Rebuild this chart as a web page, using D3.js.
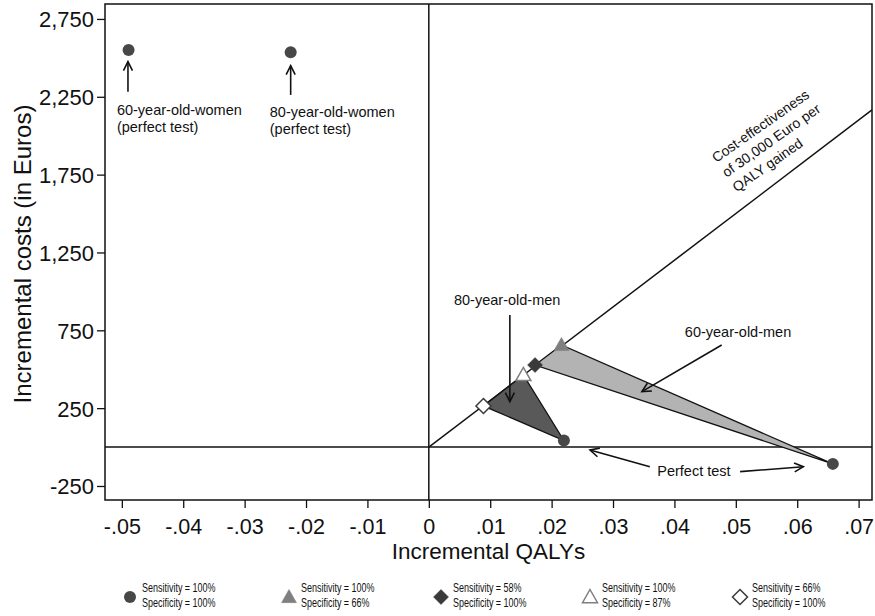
<!DOCTYPE html>
<html>
<head>
<meta charset="utf-8">
<script src="https://cdn.jsdelivr.net/npm/d3@7"></script>
<style>
  body { margin: 0; background: #fff; }
  text { font-family: "Liberation Sans", Arial, sans-serif; fill: #111; }
  .legend text { font-size: 13px; }
</style>
</head>
<body>
<div id="chart"></div>
<script>
// axis ticks
var xTicks = [-0.05, -0.04, -0.03, -0.02, -0.01, 0, 0.01, 0.02, 0.03, 0.04, 0.05, 0.06, 0.07];
var xTickLabels = ["-.05", "-.04", "-.03", "-.02", "-.01", "0", ".01", ".02", ".03", ".04", ".05", ".06", ".07"];
var yTicks = [-250, 250, 750, 1250, 1750, 2250, 2750];
var yTickLabels = ["-250", "250", "750", "1,250", "1,750", "2,250", "2,750"];

// threshold (Euro per QALY)
var threshold = 30000;

// strategies: [qaly, cost, marker]
var women60 = [[-0.0489, 2551, "circle"]];
var women80 = [[-0.0225, 2536, "circle"]];
var men60 = [[0.0216, 656, "triangle"], [0.0173, 527, "diamond"], [0.0658, -108, "circle"]];
var men80 = [[0.0089, 264, "diamondOpen"], [0.0154, 463, "triangleOpen"], [0.0220, 42, "circle"]];

// annotation labels: [qaly, cost, text]
var labels = [
  [-0.0508, 2133, "60-year-old-women"], [-0.0508, 2024, "(perfect test)"],
  [-0.0259, 2120, "80-year-old-women"], [-0.0259, 2011, "(perfect test)"],
  [0.0041, 913, "80-year-old-men"],
  [0.0417, 707, "60-year-old-men"],
  [0.0372, -186, "Perfect test"]
];
// arrows: [fromQaly, fromCost, toQaly, toCost]
var arrows = [
  [-0.0490, 2283, -0.0490, 2476],
  [-0.0225, 2262, -0.0225, 2450],
  [0.0132, 849, 0.0132, 292],
  [0.0477, 656, 0.0347, 356],
  [0.0360, -126, 0.02625, -19],
  [0.0507, -158, 0.0610, -126]
];
var ceLabel = ["Cost-effectiveness", "of 30,000 Euro per", "QALY gained"];
var ceLabelAt = [0.0468, 1825];

// legend
var legendMarkers = ["circle", "triangle", "diamond", "triangleOpen", "diamondOpen"];
var legendSens = ["Sensitivity = 100%", "Sensitivity = 100%", "Sensitivity = 58%", "Sensitivity = 100%", "Sensitivity = 66%"];
var legendSpec = ["Specificity = 100%", "Specificity = 66%", "Specificity = 100%", "Specificity = 87%", "Specificity = 100%"];

var svgWidth = 875;
var svgHeight = 616;
var plot = { left: 105, right: 872, top: 4, bottom: 500 };

var svg = d3.select("#chart")
  .append("svg")
  .attr("width", svgWidth)
  .attr("height", svgHeight);

var x = d3.scaleLinear().domain([-0.05274, 0.07218]).range([plot.left, plot.right]);
var y = d3.scaleLinear().domain([-340, 2846]).range([plot.bottom, plot.top]);

// arrow head
svg.append("defs").append("marker")
  .attr("id", "head")
  .attr("viewBox", "-10 -6 12 12")
  .attr("refX", 0).attr("refY", 0)
  .attr("markerWidth", 12).attr("markerHeight", 12)
  .attr("markerUnits", "userSpaceOnUse")
  .attr("orient", "auto")
  .append("path")
  .attr("d", "M-9,-4.5 L0,0 L-9,4.5")
  .attr("fill", "none")
  .attr("stroke", "#111")
  .attr("stroke-width", 1.6);

// axes
var xAxis = d3.axisBottom(x).tickValues(xTicks).tickSize(8).tickSizeOuter(0)
  .tickFormat(function(d, i) { return xTickLabels[i]; });
var yAxis = d3.axisLeft(y).tickValues(yTicks).tickSize(8).tickSizeOuter(0)
  .tickFormat(function(d, i) { return yTickLabels[i]; });

var gx = svg.append("g").attr("transform", `translate(0, ${plot.bottom})`).call(xAxis);
var gy = svg.append("g").attr("transform", `translate(${plot.left}, 0)`).call(yAxis);
gx.select(".domain").remove();
gy.select(".domain").remove();
gx.selectAll("line").attr("stroke", "#111").attr("stroke-width", 1.3);
gy.selectAll("line").attr("stroke", "#111").attr("stroke-width", 1.3);
gx.selectAll("text").attr("font-size", 21.5).attr("font-family", null).attr("dy", null).attr("y", 33.5);
gy.selectAll("text").attr("font-size", 22).attr("font-family", null).attr("x", -11).attr("dy", "0.36em");

// frame
svg.append("rect")
  .attr("x", plot.left).attr("y", plot.top)
  .attr("width", plot.right - plot.left).attr("height", plot.bottom - plot.top)
  .attr("fill", "none").attr("stroke", "#111").attr("stroke-width", 1.5);

// zero lines
svg.append("line").attr("x1", x(0)).attr("x2", x(0)).attr("y1", plot.top).attr("y2", plot.bottom)
  .attr("stroke", "#111").attr("stroke-width", 1.5);
svg.append("line").attr("x1", plot.left).attr("x2", plot.right).attr("y1", y(0)).attr("y2", y(0))
  .attr("stroke", "#111").attr("stroke-width", 1.5);

// cost-effectiveness threshold
var xEnd = x.domain()[1];
svg.append("line")
  .attr("x1", x(0)).attr("y1", y(0))
  .attr("x2", x(xEnd)).attr("y2", y(xEnd * threshold))
  .attr("stroke", "#111").attr("stroke-width", 1.5);

// polygons
var poly = d3.line().x(d => x(d[0])).y(d => y(d[1]));
svg.append("path").attr("d", poly(men60) + "Z")
  .attr("fill", "#b3b3b3").attr("stroke", "#111").attr("stroke-width", 1.3);
svg.append("path").attr("d", poly(men80) + "Z")
  .attr("fill", "#595959").attr("stroke", "#111").attr("stroke-width", 1.3);

// markers
function drawMarker(g, type, cx, cy) {
  if (type === "circle") {
    g.append("circle").attr("cx", cx).attr("cy", cy).attr("r", 6).attr("fill", "#474747");
  } else if (type === "triangle" || type === "triangleOpen") {
    var s = 7.5;
    g.append("path")
      .attr("d", `M${cx},${cy - s} L${cx + s},${cy + s * 0.75} L${cx - s},${cy + s * 0.75}Z`)
      .attr("fill", type === "triangle" ? "#7f7f7f" : "#fff")
      .attr("stroke", "#7f7f7f").attr("stroke-width", type === "triangle" ? 0.5 : 1.5);
  } else {
    var r = 7.5;
    g.append("path")
      .attr("d", `M${cx},${cy - r} L${cx + r},${cy} L${cx},${cy + r} L${cx - r},${cy}Z`)
      .attr("fill", type === "diamond" ? "#3a3a3a" : "#fff")
      .attr("stroke", "#3a3a3a").attr("stroke-width", type === "diamond" ? 0.5 : 1.5);
  }
}
var gm = svg.append("g");
women60.concat(women80, men60, men80).forEach(function(d) {
  drawMarker(gm, d[2], x(d[0]), y(d[1]));
});

// arrows
svg.append("g").selectAll("line")
  .data(arrows)
  .enter()
  .append("line")
  .attr("x1", d => x(d[0])).attr("y1", d => y(d[1]))
  .attr("x2", d => x(d[2])).attr("y2", d => y(d[3]))
  .attr("stroke", "#111").attr("stroke-width", 1.6)
  .attr("marker-end", "url(#head)");

// labels
svg.append("g").selectAll("text")
  .data(labels)
  .enter()
  .append("text")
  .attr("x", d => x(d[0])).attr("y", d => y(d[1]))
  .attr("font-size", 14.5)
  .text(d => d[2]);

var ce = svg.append("g")
  .attr("transform", `translate(${x(ceLabelAt[0])}, ${y(ceLabelAt[1])}) rotate(-35)`);
ce.selectAll("text")
  .data(ceLabel)
  .enter()
  .append("text")
  .attr("x", 0).attr("y", (d, i) => i * 18)
  .attr("font-size", 14)
  .text(d => d);

// axis titles
svg.append("text")
  .attr("x", (plot.left + plot.right) / 2).attr("y", 559)
  .attr("text-anchor", "middle").attr("font-size", 22.5)
  .text("Incremental QALYs");
svg.append("text")
  .attr("transform", `translate(31, ${(plot.top + plot.bottom) / 2 + 2}) rotate(-90)`)
  .attr("text-anchor", "middle").attr("font-size", 24)
  .text("Incremental costs (in Euros)");

// legend (condensed text like the original)
var legendX = [130, 289, 441, 590, 740];
var lg = svg.append("g").attr("class", "legend");
legendMarkers.forEach(function(m, i) {
  drawMarker(lg, m, legendX[i], 597);
  [legendSens[i], legendSpec[i]].forEach(function(t, j) {
    var txt = lg.append("text").attr("x", legendX[i] + 12).attr("y", 592 + j * 15).text(t);
    var w = txt.node().getComputedTextLength();
    txt.attr("textLength", w * 0.69).attr("lengthAdjust", "spacingAndGlyphs");
  });
});
</script>
</body>
</html>
